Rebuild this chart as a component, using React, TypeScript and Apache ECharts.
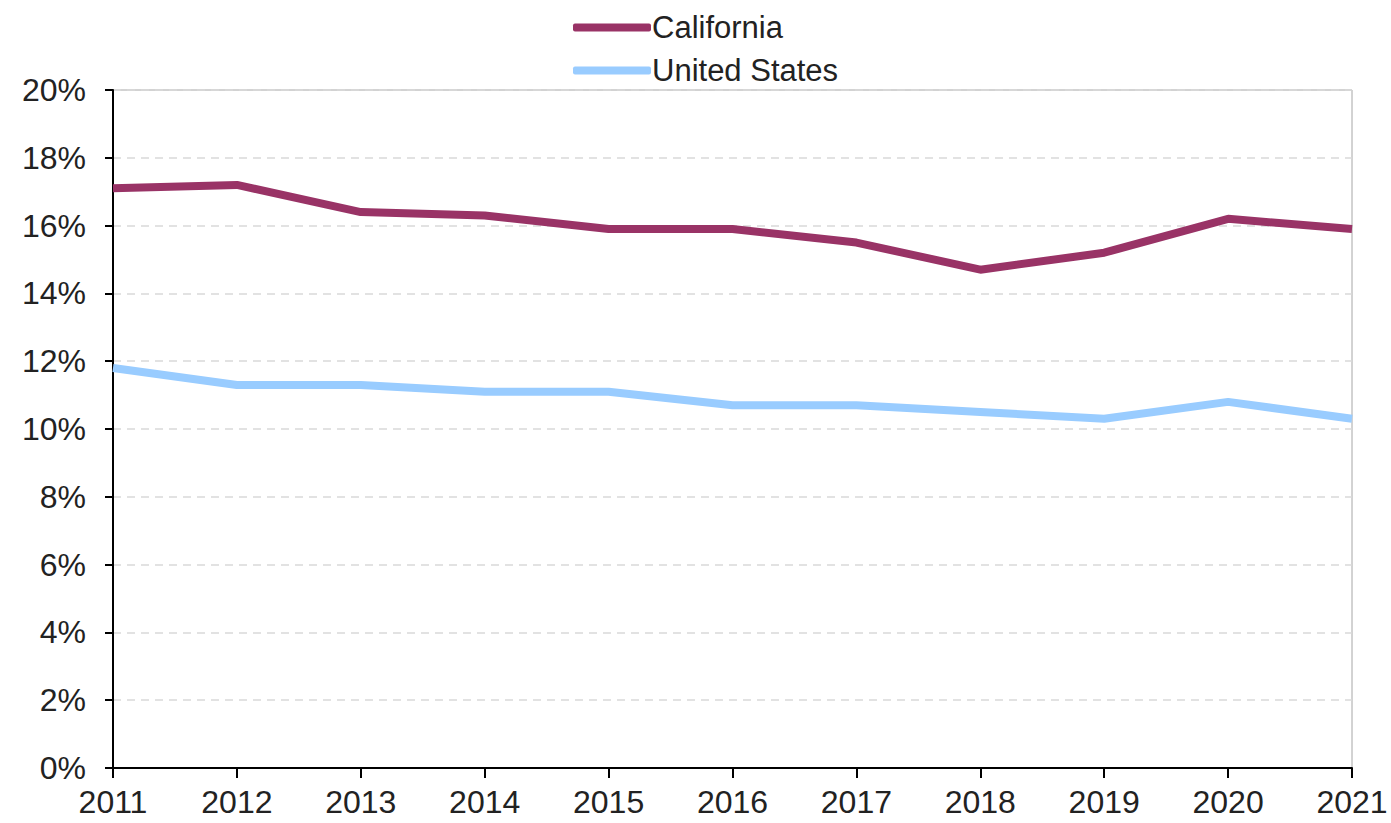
import React, { useEffect, useRef } from "react";
import * as echarts from "echarts";

const years = ["2011", "2012", "2013", "2014", "2015", "2016", "2017", "2018", "2019", "2020", "2021"];
const california = [17.1, 17.2, 16.4, 16.3, 15.9, 15.9, 15.5, 14.7, 15.2, 16.2, 15.9];
const unitedStates = [11.8, 11.3, 11.3, 11.1, 11.1, 10.7, 10.7, 10.5, 10.3, 10.8, 10.3];

export default function App() {
  const ref = useRef<HTMLDivElement>(null);
  useEffect(() => {
    const chart = echarts.init(ref.current!, null, { renderer: "svg" });
    chart.setOption({
      animation: false,
      grid: {
        left: 113,
        right: 39,
        top: 90,
        bottom: 55,
        show: true,
        borderColor: "#a6a6a6",
        borderWidth: 1,
      },
      legend: {
        orient: "vertical",
        left: 568,
        top: 7,
        itemWidth: 78,
        itemHeight: 8,
        itemGap: 12,
        textStyle: { fontSize: 31, color: "#222", fontFamily: "Liberation Sans, Arial", padding: [0, 0, 0, -4] },
        icon: "roundRect",
        data: ["California", "United States"],
      },
      xAxis: {
        type: "category",
        data: years,
        boundaryGap: false,
        axisLine: { lineStyle: { color: "#000", width: 2 } },
        axisTick: { show: true, length: 10, lineStyle: { color: "#000", width: 2 } },
        axisLabel: { fontSize: 32, color: "#222", margin: 18, fontFamily: "Liberation Sans, Arial" },
        splitLine: { show: false },
      },
      yAxis: {
        type: "value",
        min: 0,
        max: 20,
        interval: 2,
        axisLine: { show: true, lineStyle: { color: "#000", width: 2 } },
        axisTick: { show: true, length: 8, lineStyle: { color: "#000", width: 2 } },
        axisLabel: { fontSize: 32, color: "#222", margin: 27, formatter: "{value}%", fontFamily: "Liberation Sans, Arial" },
        splitLine: { show: true, lineStyle: { color: "#d9d9d9", type: [8, 6], width: 1.5 } },
      },
      series: [
        {
          name: "California",
          type: "line",
          data: california,
          symbol: "none",
          lineStyle: { color: "#993366", width: 8 },
          itemStyle: { color: "#993366" },
        },
        {
          name: "United States",
          type: "line",
          data: unitedStates,
          symbol: "none",
          lineStyle: { color: "#99ccff", width: 8 },
          itemStyle: { color: "#99ccff" },
        },
      ],
    });
    return () => chart.dispose();
  }, []);
  return <div ref={ref} style={{ position: "fixed", left: 0, top: 0, width: 1391, height: 823, background: "#fff" }} />;
}
